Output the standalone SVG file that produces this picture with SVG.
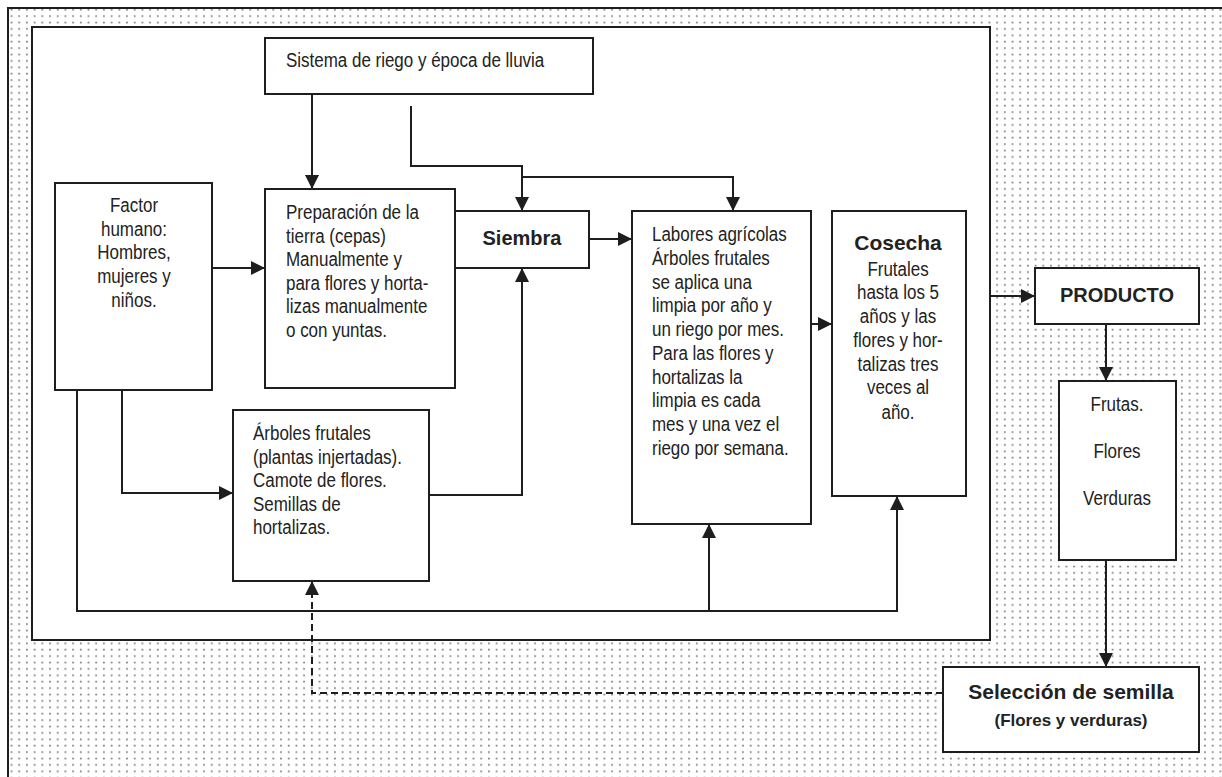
<svg xmlns="http://www.w3.org/2000/svg" width="1222" height="777" viewBox="0 0 1222 777">
<defs>
<pattern id="dots" x="0" y="0" width="7.7" height="6.4" patternUnits="userSpaceOnUse">
<rect x="3" y="2.5" width="1.6" height="1.6" fill="#6a6a6a"/>
</pattern>
<marker id="ah" viewBox="0 0 14 14" refX="14" refY="7" markerWidth="14" markerHeight="14" markerUnits="userSpaceOnUse" orient="auto">
<path d="M0,0 L14,7 L0,14 Z" fill="#1e1e1e"/>
</marker>
<style>
.box{fill:#fff;stroke:#1e1e1e;stroke-width:2}
.ln{fill:none;stroke:#1e1e1e;stroke-width:2}
.dash{fill:none;stroke:#1e1e1e;stroke-width:2;stroke-dasharray:7,4}
text{font-family:"Liberation Sans",Arial,sans-serif;font-size:19.5px;fill:#222}
.c{text-anchor:middle}
.b{font-weight:bold}
</style>
</defs>
<rect x="0" y="0" width="1222" height="777" fill="#fff"/>
<rect x="8" y="8" width="1230" height="790" fill="url(#dots)" stroke="#1e1e1e" stroke-width="2"/>
<rect x="32" y="27" width="958" height="613" class="box"/>

<g id="connectors">
<line x1="312" y1="94" x2="312" y2="189" class="ln" marker-end="url(#ah)"/>
<polyline points="411,106 411,166 522,166 522,211" class="ln" marker-end="url(#ah)"/>
<polyline points="522,177 733,177 733,211" class="ln" marker-end="url(#ah)"/>
<line x1="212" y1="268" x2="265" y2="268" class="ln" marker-end="url(#ah)"/>
<line x1="589" y1="239" x2="632" y2="239" class="ln" marker-end="url(#ah)"/>
<line x1="811" y1="324" x2="832" y2="324" class="ln" marker-end="url(#ah)"/>
<line x1="990" y1="296" x2="1035" y2="296" class="ln" marker-end="url(#ah)"/>
<line x1="1106" y1="324" x2="1106" y2="381" class="ln" marker-end="url(#ah)"/>
<line x1="1106" y1="560" x2="1106" y2="667" class="ln" marker-end="url(#ah)"/>
<polyline points="122,390 122,493 233,493" class="ln" marker-end="url(#ah)"/>
<polyline points="429,495 522,495 522,268" class="ln" marker-end="url(#ah)"/>
<polyline points="77,390 77,611 897,611 897,496" class="ln" marker-end="url(#ah)"/>
<line x1="709" y1="611" x2="709" y2="524" class="ln" marker-end="url(#ah)"/>
<polyline points="943,693 312,693 312,581" class="dash" marker-end="url(#ah)"/>
</g>

<g id="sistema">
<rect x="265" y="38" width="328" height="56" class="box"/>
<text transform="translate(286,67) scale(.87,1)">Sistema de riego y época de lluvia</text>
</g>

<g id="factor">
<rect x="55" y="183" width="157" height="207" class="box"/>
<text class="c" transform="translate(134,212) scale(.87,1)">Factor</text>
<text class="c" transform="translate(134,236) scale(.87,1)">humano:</text>
<text class="c" transform="translate(134,259) scale(.87,1)">Hombres,</text>
<text class="c" transform="translate(134,283) scale(.87,1)">mujeres y</text>
<text class="c" transform="translate(134,307) scale(.87,1)">niños.</text>
</g>

<g id="preparacion">
<rect x="265" y="189" width="190" height="199" class="box"/>
<text transform="translate(286,219) scale(.87,1)">Preparación de la</text>
<text transform="translate(286,243) scale(.87,1)">tierra (cepas)</text>
<text transform="translate(286,266) scale(.87,1)">Manualmente y</text>
<text transform="translate(286,290) scale(.87,1)">para flores  y horta-</text>
<text transform="translate(286,313) scale(.87,1)">lizas manualmente</text>
<text transform="translate(286,337) scale(.87,1)">o con yuntas.</text>
</g>

<g id="siembra">
<rect x="455" y="211" width="134" height="57" class="box"/>
<text class="c b" x="522" y="245" style="font-size:20px">Siembra</text>
</g>

<g id="arboles">
<rect x="233" y="410" width="196" height="171" class="box"/>
<text transform="translate(253,440) scale(.87,1)">Árboles frutales</text>
<text transform="translate(253,464) scale(.87,1)">(plantas injertadas).</text>
<text transform="translate(253,487) scale(.87,1)">Camote de flores.</text>
<text transform="translate(253,511) scale(.87,1)">Semillas de</text>
<text transform="translate(253,534) scale(.87,1)">hortalizas.</text>
</g>

<g id="labores">
<rect x="632" y="211" width="179" height="313" class="box"/>
<text transform="translate(652,241) scale(.87,1)">Labores agrícolas</text>
<text transform="translate(652,265) scale(.87,1)">Árboles  frutales</text>
<text transform="translate(652,289) scale(.87,1)">se aplica una</text>
<text transform="translate(652,312) scale(.87,1)">limpia por año y</text>
<text transform="translate(652,336) scale(.87,1)">un riego por mes.</text>
<text transform="translate(652,360) scale(.87,1)">Para las flores y</text>
<text transform="translate(652,384) scale(.87,1)">hortalizas la</text>
<text transform="translate(652,407) scale(.87,1)">limpia es cada</text>
<text transform="translate(652,431) scale(.87,1)">mes y una vez el</text>
<text transform="translate(652,455) scale(.87,1)">riego por semana.</text>
</g>

<g id="cosecha">
<rect x="832" y="211" width="134" height="285" class="box"/>
<text class="c b" x="898" y="250" style="font-size:21px">Cosecha</text>
<text class="c" transform="translate(898,276) scale(.87,1)">Frutales</text>
<text class="c" transform="translate(898,299) scale(.87,1)">hasta los 5</text>
<text class="c" transform="translate(898,323) scale(.87,1)">años y las</text>
<text class="c" transform="translate(898,347) scale(.87,1)">flores y hor-</text>
<text class="c" transform="translate(898,371) scale(.87,1)">talizas tres</text>
<text class="c" transform="translate(898,394) scale(.87,1)">veces al</text>
<text class="c" transform="translate(898,419) scale(.87,1)">año.</text>
</g>

<g id="producto">
<rect x="1035" y="268" width="164" height="56" class="box"/>
<text class="c b" x="1117" y="302" style="font-size:20px">PRODUCTO</text>
</g>

<g id="frutas">
<rect x="1059" y="381" width="117" height="179" class="box"/>
<text class="c" transform="translate(1117,411) scale(.87,1)">Frutas.</text>
<text class="c" transform="translate(1117,458) scale(.87,1)">Flores</text>
<text class="c" transform="translate(1117,505) scale(.87,1)">Verduras</text>
</g>

<g id="seleccion">
<rect x="943" y="667" width="256" height="85" class="box"/>
<text class="c b" x="1071" y="699" style="font-size:21px">Selección de semilla</text>
<text class="c b" x="1071" y="726" style="font-size:17px">(Flores y verduras)</text>
</g>
</svg>
